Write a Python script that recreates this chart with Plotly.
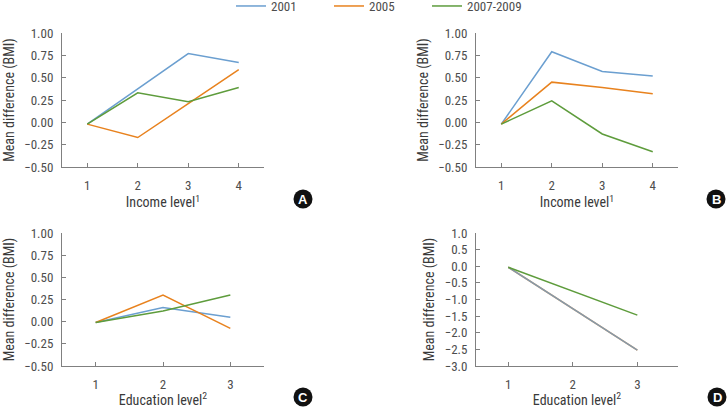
import plotly.graph_objects as go

series_names = ["2001", "2005", "2007-2009"]
series_colors = ["#6b9fd0", "#e8821e", "#5e9c3c"]

income_levels = [1, 2, 3, 4]
education_levels = [1, 2, 3]

# Panel A: income level
a_2001 = [-0.02, 0.38, 0.77, 0.67]
a_2005 = [-0.02, -0.17, 0.21, 0.59]
a_2007 = [-0.02, 0.33, 0.23, 0.39]

# Panel B: income level
b_2001 = [-0.02, 0.79, 0.57, 0.52]
b_2005 = [-0.02, 0.45, 0.39, 0.32]
b_2007 = [-0.02, 0.24, -0.13, -0.33]

# Panel C: education level
c_2001 = [-0.01, 0.16, 0.05]
c_2005 = [-0.01, 0.30, -0.075]
c_2007 = [-0.01, 0.12, 0.30]

# Panel D: education level
d_2001 = [-0.03, -1.27, -2.52]
d_2005 = [-0.03, -1.27, -2.52]
d_2007 = [-0.03, -0.75, -1.47]

panel_letters = ["A", "B", "C", "D"]
income_title = "Income level<sup>1</sup>"
education_title = "Education level<sup>2</sup>"
y_title = "Mean difference (BMI)"

FONT = "Liberation Sans Narrow, Roboto Condensed, DejaVu Sans Condensed, Arial Narrow, sans-serif"
W, H = 728, 408

fig = go.Figure()

panels = [
    ("x", "y", income_levels, [a_2001, a_2005, a_2007]),
    ("x2", "y2", income_levels, [b_2001, b_2005, b_2007]),
    ("x3", "y3", education_levels, [c_2001, c_2005, c_2007]),
    ("x4", "y4", education_levels, [d_2001, d_2005, d_2007]),
]

for pi, (xa, ya, xs, ys) in enumerate(panels):
    order = [0, 1, 2] if pi < 3 else [1, 0, 2]
    for si in order:
        fig.add_trace(go.Scatter(
            x=xs, y=ys[si], mode="lines", xaxis=xa, yaxis=ya,
            name=series_names[si], legendgroup=series_names[si],
            showlegend=(pi == 0), legendrank=si + 1,
            line=dict(color=series_colors[si], width=1.5),
            opacity=(0.8 if (pi == 3 and si == 0) else 1.0),
        ))

def px_x(p):
    return p / W

def px_y(p):
    return 1 - p / H

dom_x_left = [px_x(62), px_x(264)]
dom_x_right = [px_x(476), px_x(678)]
dom_y_top = [px_y(167), px_y(33)]
dom_y_bot = [px_y(366), px_y(233)]

axis_common = dict(
    showline=True, linecolor="#808080", linewidth=1,
    ticks="inside", ticklen=4, tickcolor="#808080",
    showgrid=False, zeroline=False, automargin=False,
    tickfont=dict(family=FONT, size=13, color="#4d4d4d"),
)

def xaxis(domain, rng, tickvals, title, anchor):
    return dict(axis_common, domain=domain, range=rng, tickvals=tickvals,
                anchor=anchor, ticklabelstandoff=6,
                title=dict(text=title, font=dict(family=FONT, size=14, color="#3a3a3a"), standoff=1))

def yaxis(domain, rng, dtick, fmt, anchor):
    return dict(axis_common, domain=domain, range=rng, dtick=dtick, tick0=0,
                tickformat=fmt, anchor=anchor, ticklabelstandoff=5,
                title=dict(text=y_title, font=dict(family=FONT, size=14, color="#3a3a3a"), standoff=6))

fig.update_layout(
    width=W, height=H,
    margin=dict(l=0, r=0, t=0, b=0, autoexpand=False),
    paper_bgcolor="white", plot_bgcolor="white",
    font=dict(family=FONT, size=13, color="#3a3a3a"),
    xaxis=xaxis(dom_x_left, [0.5, 4.5], income_levels, income_title, "y"),
    yaxis=yaxis(dom_y_top, [-0.5, 1.0], 0.25, ".2f", "x"),
    xaxis2=xaxis(dom_x_right, [0.5, 4.5], income_levels, income_title, "y2"),
    yaxis2=yaxis(dom_y_top, [-0.5, 1.0], 0.25, ".2f", "x2"),
    xaxis3=xaxis(dom_x_left, [0.5, 3.5], education_levels, education_title, "y3"),
    yaxis3=yaxis(dom_y_bot, [-0.5, 1.0], 0.25, ".2f", "x3"),
    xaxis4=xaxis(dom_x_right, [0.5, 3.63], education_levels, education_title, "y4"),
    yaxis4=yaxis(dom_y_bot, [-3.0, 1.0], 0.5, ".1f", "x4"),
    legend=dict(
        orientation="h", x=px_x(231), y=1.022, xanchor="left", yanchor="top",
        font=dict(family=FONT, size=13, color="#4d4d4d"),
        entrywidth=53, entrywidthmode="pixels",
        bgcolor="rgba(0,0,0,0)", tracegroupgap=0,
    ),
)

centers = [(303, 199), (716, 199), (303, 397), (717, 397)]
for letter, (cx, cy) in zip(panel_letters, centers):
    fig.add_shape(type="circle", xref="paper", yref="paper",
                  xsizemode="pixel", ysizemode="pixel",
                  xanchor=px_x(cx), yanchor=px_y(cy),
                  x0=-9.5, x1=9.5, y0=-9.5, y1=9.5,
                  fillcolor="#111111", line=dict(width=0))
    fig.add_annotation(x=px_x(cx), y=px_y(cy), xref="paper", yref="paper",
                       text=f"<b>{letter}</b>", showarrow=False,
                       font=dict(family="Liberation Sans, Arial, sans-serif", size=13, color="white"),
                       xanchor="center", yanchor="middle")

fig.write_html("out.html", config={"displayModeBar": False},
               post_script="document.body.style.margin='0';document.body.style.overflow='hidden';")
